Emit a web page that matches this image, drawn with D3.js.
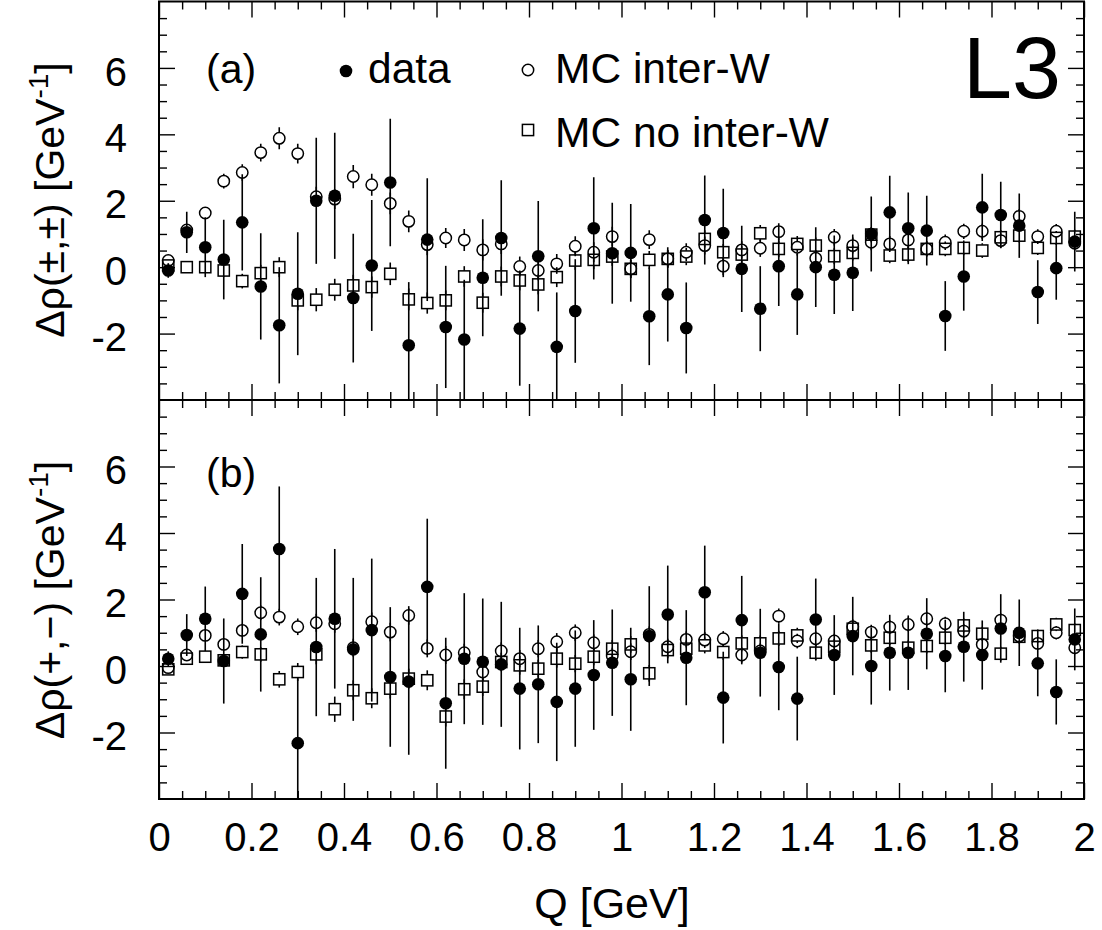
<!DOCTYPE html>
<html>
<head>
<meta charset="utf-8">
<script src="https://cdn.jsdelivr.net/npm/d3@7"></script>
<style>
body { margin: 0; background: #fff; }
text { font-family: "Liberation Sans", Arial, Helvetica, sans-serif; fill: #000; }
</style>
</head>
<body>
<svg width="1102" height="930"></svg>
<script>
// bin centres, Q in GeV
var q = [0.02, 0.06, 0.10, 0.14, 0.18, 0.22, 0.26, 0.30, 0.34, 0.38,
         0.42, 0.46, 0.50, 0.54, 0.58, 0.62, 0.66, 0.70, 0.74, 0.78,
         0.82, 0.86, 0.90, 0.94, 0.98, 1.02, 1.06, 1.10, 1.14, 1.18,
         1.22, 1.26, 1.30, 1.34, 1.38, 1.42, 1.46, 1.50, 1.54, 1.58,
         1.62, 1.66, 1.70, 1.74, 1.78, 1.82, 1.86, 1.90, 1.94, 1.98];

// (a) like-sign pairs
var dataA = [-0.1, 1.05, 0.6, 0.23, 1.35, -0.58, -1.75, -0.8, 2.0, 2.15,
             -0.93, 0.05, 2.55, -2.35, 0.83, -1.8, -2.18, -0.32, 0.88, -1.85,
             0.33, -2.4, -1.32, 1.17, 0.42, 0.43, -1.48, -0.82, -1.83, 1.42,
             1.03, -0.05, -1.25, 0.03, -0.82, 0.0, -0.23, -0.17, 1.0, 1.65,
             1.17, 1.1, -1.47, -0.28, 1.8, 1.57, 1.25, -0.75, -0.03, 0.77];
var dataAErr = [0.22, 0.62, 0.9, 1.2, 1.45, 1.6, 1.75, 1.85, 1.9, 1.9,
                1.94, 1.97, 1.92, 1.9, 1.85, 1.84, 1.8, 1.76, 1.74, 1.72,
                1.66, 1.64, 1.56, 1.54, 1.52, 1.47, 1.47, 1.42, 1.37, 1.34,
                1.33, 1.3, 1.28, 1.2, 1.22, 1.2, 1.18, 1.15, 1.13, 1.1,
                1.08, 1.05, 1.05, 1.03, 1.01, 1.0, 0.97, 0.96, 0.95, 0.9];
var interA = [0.2, 1.12, 1.63, 2.59, 2.85, 3.45, 3.88, 3.42, 2.12, 2.05,
              2.73, 2.48, 1.92, 1.38, 0.68, 0.88, 0.82, 0.52, 0.7, 0.02,
              -0.1, 0.1, 0.63, 0.45, 0.92, -0.05, 0.83, 0.25, 0.45, 0.65,
              0.03, 0.52, 0.57, 1.07, 0.6, 0.27, 0.9, 0.65, 0.75, 0.7,
              0.82, 0.55, 0.75, 1.08, 1.08, 0.8, 1.53, 0.92, 1.08, 0.72];
var interAErr = [0.1, 0.15, 0.17, 0.22, 0.25, 0.27, 0.33, 0.3, 0.3, 0.3,
                 0.35, 0.33, 0.33, 0.33, 0.32, 0.3, 0.33, 0.32, 0.3, 0.3,
                 0.3, 0.3, 0.3, 0.3, 0.3, 0.28, 0.28, 0.27, 0.27, 0.27,
                 0.27, 0.26, 0.26, 0.25, 0.25, 0.25, 0.25, 0.24, 0.24, 0.24,
                 0.24, 0.23, 0.23, 0.23, 0.23, 0.22, 0.22, 0.22, 0.22, 0.22];
var noA = [0.05, 0.0, 0.0, -0.1, -0.42, -0.18, 0.0, -1.0, -0.98, -0.68,
           -0.55, -0.6, -0.2, -0.97, -1.08, -1.0, -0.28, -1.07, -0.28, -0.4,
           -0.52, -0.3, 0.2, 0.22, 0.32, -0.05, 0.22, 0.25, 0.32, 0.85,
           0.45, 0.38, 1.02, 0.55, 0.7, 0.65, 0.33, 0.43, 0.98, 0.35,
           0.38, 0.55, 0.55, 0.58, 0.5, 0.9, 0.95, 0.58, 0.88, 0.92];
var noAErr = [0.1, 0.12, 0.15, 0.2, 0.22, 0.25, 0.3, 0.3, 0.35, 0.33,
              0.32, 0.32, 0.34, 0.33, 0.32, 0.3, 0.31, 0.3, 0.3, 0.3,
              0.3, 0.3, 0.28, 0.28, 0.28, 0.27, 0.27, 0.26, 0.26, 0.26,
              0.25, 0.25, 0.25, 0.25, 0.24, 0.24, 0.24, 0.23, 0.23, 0.23,
              0.23, 0.22, 0.22, 0.22, 0.22, 0.22, 0.21, 0.21, 0.21, 0.21];

// (b) unlike-sign pairs
var dataB = [0.22, 0.93, 1.42, 0.15, 2.17, 0.95, 3.52, -2.32, 0.57, 1.42,
             0.5, 1.08, -0.33, -0.47, 2.38, -1.12, 0.22, 0.13, 0.05, -0.68,
             -0.55, -1.08, -0.68, -0.27, 0.1, -0.4, 0.9, 1.55, 0.25, 2.22,
             -0.95, 1.38, 0.4, -0.03, -0.98, 1.4, 0.33, 0.9, 0.0, 0.4,
             0.4, 0.97, 0.3, 0.58, 0.33, 1.13, 1.0, 0.08, -0.78, 0.8];
var dataBErr = [0.22, 0.63, 0.97, 1.28, 1.5, 1.72, 1.88, 1.95, 2.08, 2.1,
                2.15, 2.15, 2.1, 2.2, 2.05, 1.97, 1.97, 1.9, 1.88, 1.83,
                1.77, 1.78, 1.75, 1.65, 1.6, 1.55, 1.5, 1.47, 1.43, 1.4,
                1.38, 1.33, 1.32, 1.3, 1.26, 1.23, 1.2, 1.18, 1.16, 1.14,
                1.12, 1.07, 1.09, 1.05, 1.04, 1.03, 1.0, 0.99, 0.98, 0.93];
var interB = [-0.05, 0.33, 0.92, 0.65, 1.07, 1.6, 1.47, 1.18, 1.3, 1.27,
              0.55, 1.33, 1.02, 1.52, 0.53, 0.33, 0.4, -0.18, 0.45, 0.22,
              0.52, 0.73, 1.0, 0.7, 0.3, 0.43, 0.95, 0.58, 0.8, 0.78,
              0.82, 0.33, 0.45, 1.5, 0.75, 0.82, 0.75, 1.18, 1.02, 1.17,
              1.25, 1.42, 1.27, 1.05, 0.65, 1.38, 0.9, 0.68, 1.0, 0.55];
var interBErr = [0.1, 0.13, 0.15, 0.18, 0.2, 0.22, 0.25, 0.25, 0.27, 0.27,
                 0.27, 0.28, 0.28, 0.28, 0.27, 0.27, 0.27, 0.26, 0.26, 0.26,
                 0.26, 0.26, 0.25, 0.25, 0.25, 0.25, 0.24, 0.24, 0.24, 0.24,
                 0.23, 0.23, 0.23, 0.23, 0.22, 0.22, 0.22, 0.22, 0.22, 0.21,
                 0.21, 0.21, 0.21, 0.21, 0.2, 0.2, 0.2, 0.2, 0.2, 0.2];
var noB = [-0.1, 0.22, 0.28, 0.17, 0.42, 0.35, -0.4, -0.18, 0.35, -1.3,
           -0.73, -0.97, -0.68, -0.38, -0.43, -1.52, -0.7, -0.62, 0.12, 0.02,
           -0.08, 0.22, 0.07, 0.28, 0.52, 0.65, -0.22, 0.48, 0.52, 0.62,
           0.42, 0.68, 0.68, 0.83, 0.92, 0.4, 0.58, 1.12, 0.62, 0.85,
           0.55, 0.6, 0.85, 1.22, 0.97, 0.37, 0.88, 0.9, 1.25, 1.08];
var noBErr = [0.1, 0.12, 0.15, 0.18, 0.2, 0.22, 0.25, 0.27, 0.3, 0.38,
              0.3, 0.3, 0.3, 0.3, 0.3, 0.3, 0.3, 0.28, 0.28, 0.28,
              0.27, 0.27, 0.26, 0.26, 0.26, 0.25, 0.25, 0.25, 0.25, 0.24,
              0.24, 0.24, 0.24, 0.23, 0.23, 0.23, 0.23, 0.22, 0.22, 0.22,
              0.22, 0.22, 0.21, 0.21, 0.21, 0.21, 0.21, 0.2, 0.2, 0.2];

var xMajor = [0, 0.2, 0.4, 0.6, 0.8, 1, 1.2, 1.4, 1.6, 1.8, 2];
var yMajor = [-2, 0, 2, 4, 6];

var x0 = 159, x1 = 1084;
var svg = d3.select('svg');
var x = d3.scaleLinear().domain([0, 2]).range([x0, x1]);

var xMinor = d3.range(0.05, 2, 0.05).filter(function(d) { return Math.abs(d * 5 - Math.round(d * 5)) > 1e-6; });
var yMinor = d3.range(-3.5, 8, 0.5).filter(function(d) { return d % 2 !== 0; });

var panels = [
	{ name: 'a', top: 1.5, bottom: 400, vals: dataA, err: dataAErr, inter: interA, interErr: interAErr, no: noA, noErr: noAErr },
	{ name: 'b', top: 400, bottom: 799, vals: dataB, err: dataBErr, inter: interB, interErr: interBErr, no: noB, noErr: noBErr }
];

function axisGroup(axis, tx, ty) {
	var g = svg.append('g').attr('transform', 'translate(' + tx + ',' + ty + ')').call(axis);
	g.select('.domain').remove();
	g.selectAll('line').attr('stroke', '#000').attr('stroke-width', 1.4);
	return g;
}

function drawMarker(g, type, cx, cy) {
	if (type == 'dot') {
		g.append('circle').attr('cx', cx).attr('cy', cy).attr('r', 6.3).attr('fill', '#000');
	} else if (type == 'circle') {
		g.append('circle').attr('cx', cx).attr('cy', cy).attr('r', 5.7)
			.attr('fill', 'none').attr('stroke', '#000').attr('stroke-width', 1.5);
	} else {
		g.append('rect').attr('x', cx - 5.6).attr('y', cy - 5.6).attr('width', 11.2).attr('height', 11.2)
			.attr('fill', 'none').attr('stroke', '#000').attr('stroke-width', 1.5);
	}
}

function drawSeries(g, y, vals, errs, type) {
	var gap = type == 'dot' ? 0 : 5.7;
	vals.forEach(function(v, i) {
		var cx = x(q[i]), cy = y(v);
		var hi = y(v + errs[i]), lo = y(v - errs[i]);
		if (cy - gap > hi) g.append('line').attr('x1', cx).attr('x2', cx).attr('y1', hi).attr('y2', cy - gap)
			.attr('stroke', '#000').attr('stroke-width', 1.6);
		if (cy + gap < lo) g.append('line').attr('x1', cx).attr('x2', cx).attr('y1', cy + gap).attr('y2', lo)
			.attr('stroke', '#000').attr('stroke-width', 1.6);
		drawMarker(g, type, cx, cy);
	});
}

panels.forEach(function(p, k) {
	var y = d3.scaleLinear().domain([-4, 8]).range([p.bottom, p.top]);

	// ticks, all pointing inwards
	var left = axisGroup(d3.axisLeft(y).tickValues(yMajor).tickSize(-16).tickPadding(32)
		.tickFormat(function(d) { return String(d); }), x0, 0);
	left.selectAll('text').attr('font-size', 40).attr('dy', '0.43em')
		.style('font-family', '"Liberation Sans", Arial, sans-serif');
	axisGroup(d3.axisLeft(y).tickValues(yMinor).tickSize(-8).tickFormat(''), x0, 0);
	axisGroup(d3.axisRight(y).tickValues(yMajor).tickSize(-16).tickFormat(''), x1, 0);
	axisGroup(d3.axisRight(y).tickValues(yMinor).tickSize(-8).tickFormat(''), x1, 0);
	axisGroup(d3.axisTop(x).tickValues(xMajor).tickSize(-16).tickFormat(''), 0, p.top);
	axisGroup(d3.axisTop(x).tickValues(xMinor).tickSize(-8).tickFormat(''), 0, p.top);
	var bot = axisGroup(d3.axisBottom(x).tickValues(xMajor).tickSize(-16).tickPadding(24)
		.tickFormat(k == 1 ? function(d) { return String(Math.round(d * 10) / 10); } : ''), 0, p.bottom);
	bot.selectAll('text').attr('font-size', 40)
		.style('font-family', '"Liberation Sans", Arial, sans-serif');
	axisGroup(d3.axisBottom(x).tickValues(xMinor).tickSize(-8).tickFormat(''), 0, p.bottom);

	svg.append('clipPath').attr('id', 'clip' + p.name).append('rect')
		.attr('x', x0).attr('y', p.top).attr('width', x1 - x0).attr('height', p.bottom - p.top);
	var g = svg.append('g').attr('clip-path', 'url(#clip' + p.name + ')');
	drawSeries(g, y, p.no, p.noErr, 'square');
	drawSeries(g, y, p.inter, p.interErr, 'circle');
	drawSeries(g, y, p.vals, p.err, 'dot');

	svg.append('rect').attr('x', x0).attr('y', p.top).attr('width', x1 - x0).attr('height', p.bottom - p.top)
		.attr('fill', 'none').attr('stroke', '#000').attr('stroke-width', 2);

	svg.append('text').attr('x', 206).attr('y', k == 0 ? 83 : 487).attr('font-size', 41)
		.text(k == 0 ? '(a)' : '(b)');
});

// legend
var leg = svg.append('g');
drawMarker(leg, 'dot', 346, 71);
leg.append('text').attr('x', 368).attr('y', 83).attr('font-size', 42.5).text('data');
drawMarker(leg, 'circle', 528, 70);
leg.append('text').attr('x', 555).attr('y', 83).attr('font-size', 42.5).text('MC inter-W');
drawMarker(leg, 'square', 528, 130);
leg.append('text').attr('x', 555).attr('y', 147).attr('font-size', 42.5).text('MC no inter-W');

svg.append('text').attr('x', 963).attr('y', 98).attr('font-size', 88).text('L3');

// axis titles
svg.append('text').attr('x', 612).attr('y', 918).attr('font-size', 43).attr('text-anchor', 'middle').text('Q [GeV]');

function yTitle(cy, inner) {
	var t = svg.append('text').attr('transform', 'translate(64,' + cy + ') rotate(-90)')
		.attr('text-anchor', 'middle').attr('font-size', 41);
	t.append('tspan').text('\u0394\u03c1(' + inner + ') [GeV');
	t.append('tspan').attr('font-size', 28).attr('dy', -16).text('-1');
	t.append('tspan').attr('dy', 16).text(']');
}
yTitle(200, '\u00b1,\u00b1');
yTitle(600, '+,\u2212');
</script>
</body>
</html>
